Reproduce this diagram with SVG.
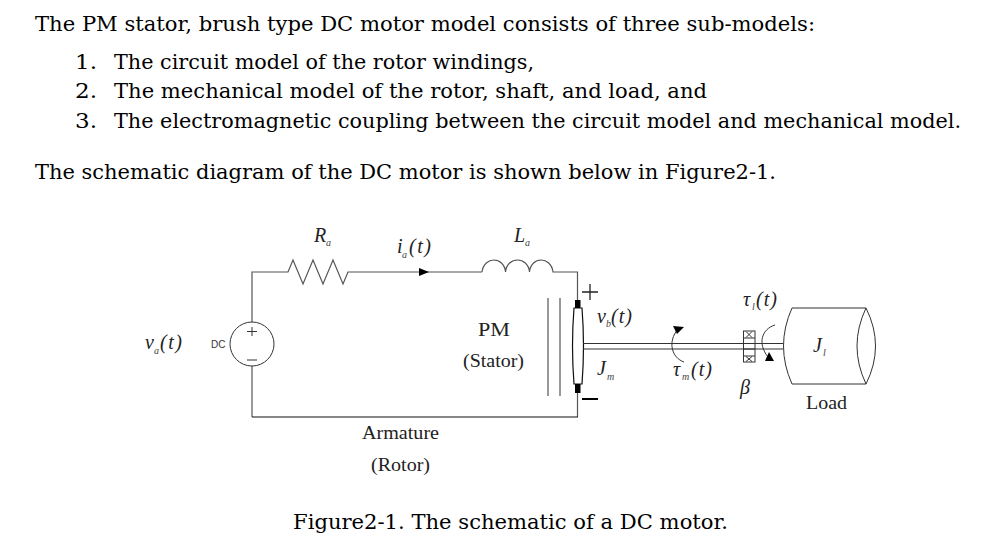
<svg xmlns="http://www.w3.org/2000/svg" width="990" height="547" viewBox="0 0 990 547">
<style>
.body{font-family:"DejaVu Serif","Liberation Serif",serif;font-size:20px;fill:#000}
.lab{font-family:"Liberation Serif",serif;font-size:19px;fill:#222}
.m{font-family:"Liberation Serif",serif;font-style:italic;font-size:20px;fill:#222}
.s{font-family:"Liberation Serif",serif;font-style:italic;font-size:10px;fill:#444}
.w{fill:none;stroke:#555;stroke-width:1.2}
.k{fill:none;stroke:#333;stroke-width:1}
.h{fill:#000;stroke:none}
</style>
<rect width="990" height="547" fill="#fff"/>
<g id="text">
<text class="body" x="35" y="31" textLength="780" lengthAdjust="spacingAndGlyphs">The PM stator, brush type DC motor model consists of three sub-models:</text>
<text class="body" x="75" y="69" textLength="22" lengthAdjust="spacingAndGlyphs">1.</text>
<text class="body" x="114" y="69" textLength="420" lengthAdjust="spacingAndGlyphs">The circuit model of the rotor windings,</text>
<text class="body" x="75" y="98" textLength="22" lengthAdjust="spacingAndGlyphs">2.</text>
<text class="body" x="114" y="98" textLength="593" lengthAdjust="spacingAndGlyphs">The mechanical model of the rotor, shaft, and load, and</text>
<text class="body" x="75" y="128" textLength="22" lengthAdjust="spacingAndGlyphs">3.</text>
<text class="body" x="114" y="128" textLength="847" lengthAdjust="spacingAndGlyphs">The electromagnetic coupling between the circuit model and mechanical model.</text>
<text class="body" x="35" y="179" textLength="741" lengthAdjust="spacingAndGlyphs">The schematic diagram of the DC motor is shown below in Figure2-1.</text>
<text class="body" x="293" y="529" textLength="435" lengthAdjust="spacingAndGlyphs">Figure2-1. The schematic of a DC motor.</text>
</g>
<g id="connectors">
<path class="w" d="M252 322V272H288L293 260L303 284L313 260L323 284L333 260L343 284L348 272H482"/>
<path class="w" d="M482 272C484 256 504 256 505.500 272C507 256 528 256 529.500 272C531 256 551 256 553 272H577.500V300"/>
<path class="w" d="M577.500 393V417"/>
<path class="w" d="M252 417V366"/>
<path d="M252 417H578" fill="none" stroke="#111" stroke-width="1.200"/>
<path class="h" d="M419 268L429 272L419 276Z"/>
</g>
<g id="source">
<circle class="k" cx="252" cy="344" r="22" fill="#fff"/>
<path class="k" d="M247 331.500H257M252 327V336M247 360H257"/>
<text x="211" y="348" font-family="Liberation Sans,sans-serif" font-size="10" fill="#333">DC</text>
<text class="m" x="145" y="349">v</text><text class="s" x="154" y="354">a</text><text class="m" x="160" y="349" textLength="22" font-style="normal">(t)</text>
</g>
<g id="resistor-label"><text class="m" x="314" y="242">R</text><text class="s" x="326" y="246">a</text></g>
<g id="current-label"><text class="m" x="397" y="253">i</text><text class="s" x="402" y="258">a</text><text class="m" x="409" y="253" textLength="22">(t)</text></g>
<g id="inductor-label"><text class="m" x="514" y="242">L</text><text class="s" x="525" y="246">a</text></g>
<g id="stator">
<path class="k" d="M548 298V396M560 298V396"/>
<text class="lab" x="478" y="336" textLength="32" lengthAdjust="spacingAndGlyphs">PM</text>
<text class="lab" x="463" y="367" textLength="61" lengthAdjust="spacingAndGlyphs">(Stator)</text>
</g>
<g id="rotor">
<path d="M574 308H582Q585 346 582 384H574Q571 346 574 308Z" fill="#fff" stroke="#111" stroke-width="1.200"/>
<rect class="h" x="575" y="300" width="5.500" height="8"/>
<rect class="h" x="575" y="384" width="5.500" height="9"/>
<path d="M582 292H598M590 284V300" fill="none" stroke="#222" stroke-width="1.300"/>
<path d="M582 399H598" fill="none" stroke="#000" stroke-width="2"/>
<text class="m" x="597" y="375">J</text><text class="s" x="607" y="380">m</text>
<text class="m" x="597" y="323">v</text><text class="s" x="606" y="327">b</text><text class="m" x="611" y="323" textLength="21">(t)</text>
</g>
<g id="shaft"><path class="k" d="M583 343.500H783M583 349H783"/></g>
<g id="motor-torque">
<path class="k" d="M684 362C672 358 667 342 678 329"/>
<path class="h" d="M673 326L684 327L677 334Z"/>
<text class="m" x="673" y="376">τ</text><text class="s" x="682" y="380">m</text><text class="m" x="691" y="376" textLength="21">(t)</text>
</g>
<g id="bearing">
<rect class="k" x="743.500" y="331" width="11.500" height="31" fill="#fff"/>
<path class="k" d="M743.500 338H755M743.500 356H755M746 331.500L752 337.500M752 331.500L746 337.500M746 356.500L752 361.500M752 356.500L746 361.500"/>
<path class="k" d="M743.500 343.500H755M743.500 349H755"/>
<text class="m" x="740" y="394">β</text>
</g>
<g id="load-torque">
<path class="k" d="M775 325C762 329 757 343 768 357"/>
<path class="h" d="M769 352L774 361L765 361Z"/>
<text class="m" x="743" y="306">τ</text><text class="s" x="752" y="310">l</text><text class="m" x="756" y="306" textLength="21">(t)</text>
</g>
<g id="load">
<path class="k" d="M792 308H866M792 384H866M792 308Q775 346 792 384"/>
<path class="k" d="M866 308Q848 346 866 384Q885 346 866 308Z"/>
<text class="m" x="813" y="352">J</text><text class="s" x="823" y="356">l</text>
<text class="lab" x="806" y="409" textLength="41" lengthAdjust="spacingAndGlyphs">Load</text>
</g>
<g id="armature-label">
<text class="lab" x="362" y="439" textLength="77" lengthAdjust="spacingAndGlyphs">Armature</text>
<text class="lab" x="371" y="471" textLength="59" lengthAdjust="spacingAndGlyphs">(Rotor)</text>
</g>
</svg>
